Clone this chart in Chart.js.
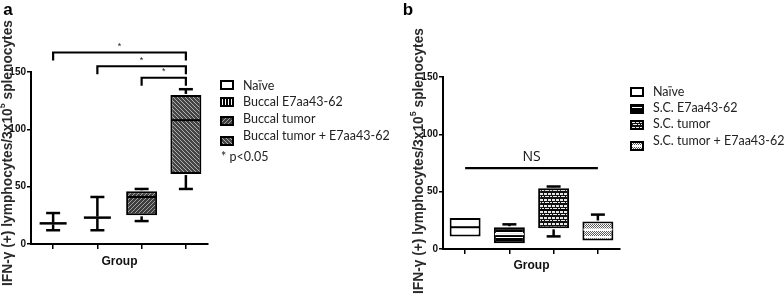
<!DOCTYPE html>
<html><head><meta charset="utf-8">
<script src="https://cdn.jsdelivr.net/npm/chart.js@4.4.1/dist/chart.umd.min.js"></script>
<style>
html,body{margin:0;padding:0;background:#fff;width:784px;height:301px;overflow:hidden}
.wrap{position:absolute;top:0;width:392px;height:301px}
canvas{display:block}
</style></head><body>
<div class="wrap" style="left:0"><canvas id="ca" width="392" height="301"></canvas></div>
<div class="wrap" style="left:392px"><canvas id="cb" width="392" height="301"></canvas></div>
<script>
// ---------- DATA ----------
const yTicks = [0, 50, 100, 150];
const yTitlePre = 'IFN-\u03B3 (+) lymphocytes/3x10';
const yTitleSup = '5';
const yTitlePost = ' splenocytes';
const xTitle = 'Group';

// Panel a
const groupsA = ['Na\u00EFve', 'Buccal E7aa43-62', 'Buccal tumor', 'Buccal tumor + E7aa43-62'];
const minA = [12, 12, 20, 48];
const q1A  = [18, 23, 25, 61];
const medA = [18, 23, 41, 108];
const q3A  = [18, 23, 46, 130];
const maxA = [27, 41, 48, 135];
const sigPairsA  = [[0, 3], [1, 3], [2, 3]];
const sigLevelsA = [167, 155, 145];
const sigLabelsA = ['*', '*', '*'];
const noteA = '* p<0.05';

// Panel b
const groupsB = ['Na\u00EFve', 'S.C. E7aa43-62', 'S.C. tumor', 'S.C. tumor + E7aa43-62'];
const minB = [11, 5, 11, 7.5];
const q1B  = [11, 5, 18, 7.5];
const medB = [19, 13, 34, 17];
const q3B  = [27, 19, 53, 24];
const maxB = [27, 21.5, 54.5, 30];
const nsLevelB = 70.5;
const nsLabelB = 'NS';

// ---------- PATTERNS ----------
function pat(w, h, draw) {
  const c = document.createElement('canvas'); c.width = w; c.height = h;
  const g = c.getContext('2d'); draw(g, w, h);
  return g.createPattern(c, 'repeat');
}
const pWhite = '#ffffff';
const pVStripe = pat(3, 3, (g) => { g.fillStyle = '#000'; g.fillRect(0,0,3,3); g.fillStyle = '#fff'; g.fillRect(0,0,1,3); });
const pDiag1 = pat(4, 4, (g) => { g.fillStyle = '#3c3c3c'; g.fillRect(0,0,4,4); g.fillStyle = '#a0a0a0';
  for (let i = 0; i < 4; i++) g.fillRect(i, 3 - i, 1, 1); });
const pDiag2 = pat(4, 4, (g) => { g.fillStyle = '#444'; g.fillRect(0,0,4,4); g.fillStyle = '#b0b0b0';
  for (let i = 0; i < 4; i++) g.fillRect(i, i, 1, 1); });
const pHStripe = pat(4, 5, (g) => { g.fillStyle = '#000'; g.fillRect(0,0,4,5); g.fillStyle = '#fff'; g.fillRect(0,2,4,1); });
const pBrick = pat(8, 6, (g) => { g.fillStyle = '#111'; g.fillRect(0,0,8,6); g.fillStyle = '#e8e8e8';
  g.fillRect(0,1,3,2); g.fillRect(4,1,3,2);
  g.fillRect(1,4,4,1); g.fillRect(6,4,2,1); });
const pCheck = pat(4, 7, (g) => { g.fillStyle = '#fff'; g.fillRect(0,0,4,7); g.fillStyle = '#5a5a5a';
  for (let y = 0; y < 5; y++) for (let x = 0; x < 4; x++) if ((x + y) % 2 === 0) g.fillRect(x, y, 1, 1); });

const fillsA = [pWhite, pVStripe, pDiag1, pDiag2];
const fillsB = [pWhite, pHStripe, pBrick, pCheck];
const medColorsB = ['#000', '#fff', '#000', '#fff'];

// ---------- HELPERS ----------
function drawYTitle(ctx, cx, cy, len) {
  ctx.save();
  ctx.translate(cx, cy); ctx.rotate(-Math.PI / 2);
  let size = 10;
  const meas = (s) => {
    ctx.font = `bold ${s}px "Liberation Sans", Arial, sans-serif`;
    const a = ctx.measureText(yTitlePre).width, c = ctx.measureText(yTitlePost).width;
    ctx.font = `bold ${s * 0.65}px "Liberation Sans", Arial, sans-serif`;
    const b = ctx.measureText(yTitleSup).width;
    return [a, b, c];
  };
  let w = meas(size); size = size * len / (w[0] + w[1] + w[2]); w = meas(size);
  let x = -(w[0] + w[1] + w[2]) / 2;
  ctx.fillStyle = '#2a2a2a'; ctx.textBaseline = 'middle'; ctx.textAlign = 'left';
  ctx.font = `bold ${size}px "Liberation Sans", Arial, sans-serif`;
  ctx.fillText(yTitlePre, x, 0); x += w[0];
  ctx.font = `bold ${size * 0.65}px "Liberation Sans", Arial, sans-serif`;
  ctx.fillText(yTitleSup, x, -size * 0.38); x += w[1];
  ctx.font = `bold ${size}px "Liberation Sans", Arial, sans-serif`;
  ctx.fillText(yTitlePost, x, 0);
  ctx.restore();
}

function text(ctx, s, x, y, font, align, color) {
  ctx.save(); ctx.font = font; ctx.textAlign = align || 'center'; ctx.textBaseline = 'middle';
  ctx.fillStyle = color || '#111'; ctx.fillText(s, x, y); ctx.restore();
}

function makePanel(id, cfg) {
  const plugin = {
    id: 'boxes_' + id,
    afterDatasetsDraw(chart) {
      const ctx = chart.ctx, xs = chart.scales.x, ys = chart.scales.y;
      const meta = chart.getDatasetMeta(0);
      ctx.save();
      ctx.strokeStyle = '#000'; ctx.lineWidth = 2.5; ctx.lineCap = 'butt';
      cfg.groups.forEach((g, i) => {
        const x = xs.getPixelForValue(i);
        const bw = meta.data[i].width;
        const capW = 14;
        const line = (x1, y1, x2, y2, col) => { ctx.strokeStyle = col || '#000'; ctx.beginPath(); ctx.moveTo(x1, y1); ctx.lineTo(x2, y2); ctx.stroke(); };
        const yMin = ys.getPixelForValue(cfg.min[i]), yQ1 = ys.getPixelForValue(cfg.q1[i]);
        const yQ3 = ys.getPixelForValue(cfg.q3[i]), yMax = ys.getPixelForValue(cfg.max[i]);
        const yMed = ys.getPixelForValue(cfg.med[i]);
        if (cfg.min[i] < cfg.q1[i]) { line(x, yQ1 + 1, x, yMin); line(x - capW / 2, yMin, x + capW / 2, yMin); }
        if (cfg.max[i] > cfg.q3[i]) { line(x, yQ3 - 1, x, yMax); line(x - capW / 2, yMax, x + capW / 2, yMax); }
        const mw = cfg.q1[i] === cfg.q3[i] ? 27 : bw - 2;
        ctx.lineWidth = cfg.q1[i] === cfg.q3[i] ? 2.5 : 2;
        line(x - mw / 2, yMed, x + mw / 2, yMed, cfg.medColors ? cfg.medColors[i] : '#000');
        ctx.lineWidth = 2.5;
      });
      ctx.restore();
    },
    afterDraw(chart) {
      const ctx = chart.ctx, xs = chart.scales.x, ys = chart.scales.y;
      text(ctx, cfg.letter, cfg.letterX, cfg.letterY, 'bold 17px "Liberation Sans", Arial, sans-serif', 'center', '#000');
      drawYTitle(ctx, cfg.yTitleX, cfg.yTitleY, cfg.yTitleLen);
      text(ctx, xTitle, (chart.chartArea.left + chart.chartArea.right) / 2, cfg.xTitleY,
        'bold 12px "Liberation Sans Narrow", "Liberation Sans", Arial, sans-serif', 'center', '#111');
      ctx.save(); ctx.strokeStyle = '#000'; ctx.lineWidth = 2.2;
      (cfg.sigPairs || []).forEach((p, k) => {
        const x1 = xs.getPixelForValue(p[0]), x2 = xs.getPixelForValue(p[1]);
        const y = ys.getPixelForValue(cfg.sigLevels[k]);
        ctx.beginPath(); ctx.moveTo(x1, y + 8); ctx.lineTo(x1, y); ctx.lineTo(x2, y); ctx.lineTo(x2, y + 8); ctx.stroke();
        text(ctx, cfg.sigLabels[k], (x1 + x2) / 2, y - 6, '9px "Liberation Sans", Arial, sans-serif', 'center', '#222');
      });
      if (cfg.nsLevel !== undefined) {
        const x1 = xs.getPixelForValue(0), x2 = xs.getPixelForValue(cfg.groups.length - 1);
        const y = ys.getPixelForValue(cfg.nsLevel);
        ctx.beginPath(); ctx.moveTo(x1, y); ctx.lineTo(x2, y); ctx.stroke();
        text(ctx, cfg.nsLabel, (x1 + x2) / 2, y - 11, '14px "Open Sans", "Liberation Sans", sans-serif', 'center', '#111');
      }
      ctx.restore();
      ctx.save();
      cfg.groups.forEach((g, i) => {
        const iy = cfg.legIconY[i];
        ctx.fillStyle = cfg.fills[i];
        ctx.fillRect(cfg.legIconX, iy - 4, 12, 8);
        ctx.strokeStyle = '#000'; ctx.lineWidth = 2;
        ctx.strokeRect(cfg.legIconX, iy - 4, 12, 8);
        text(ctx, g, cfg.legTextX, cfg.legTextY[i], cfg.legFont, 'left', '#222');
      });
      if (cfg.note) text(ctx, cfg.note, cfg.noteX, cfg.noteY, cfg.legFont, 'left', '#222');
      ctx.restore();
    }
  };

  return new Chart(document.getElementById(id), {
    type: 'bar',
    data: {
      labels: cfg.groups,
      datasets: [{
        data: cfg.q1.map((v, i) => [v, cfg.q3[i]]),
        backgroundColor: cfg.fills,
        borderColor: '#000', borderWidth: 2, borderSkipped: false,
        barPercentage: 0.7, categoryPercentage: 1
      }]
    },
    options: {
      responsive: false, animation: false, devicePixelRatio: 1,
      layout: { padding: cfg.padding },
      plugins: { legend: { display: false }, tooltip: { enabled: false } },
      scales: {
        x: {
          offset: true,
          grid: { offset: false, drawOnChartArea: false, drawTicks: true, tickLength: 5, color: '#000', lineWidth: 1.5 },
          border: { display: true, color: '#000', width: 2 },
          ticks: { display: false },
          afterFit: (s) => { s.height = 10; }
        },
        y: {
          min: 0, max: 150,
          afterBuildTicks: (s) => { s.ticks = yTicks.map(v => ({ value: v })); },
          grid: { drawOnChartArea: false, drawTicks: true, tickLength: 4, color: '#000', lineWidth: 1.5 },
          border: { display: true, color: '#000', width: 2 },
          ticks: { color: '#111', padding: 1, font: { family: '"Liberation Sans", Arial, sans-serif', size: 10, weight: 'bold' } },
          afterFit: (s) => { s.width = 31; }
        }
      }
    },
    plugins: [plugin]
  });
}

makePanel('ca', {
  groups: groupsA, min: minA, q1: q1A, med: medA, q3: q3A, max: maxA, fills: fillsA,
  sigPairs: sigPairsA, sigLevels: sigLevelsA, sigLabels: sigLabelsA,
  padding: { left: 0, top: 72, right: 184, bottom: 47 },
  letter: 'a', letterX: 8, letterY: 10,
  yTitleX: 8, yTitleY: 153, yTitleLen: 266, xTitleY: 262,
  legIconX: 221, legIconY: [85, 102, 121, 141], legTextX: 243, legTextY: [86, 102, 119, 136],
  legFont: '12.5px Lato, "Open Sans", sans-serif',
  note: noteA, noteX: 221, noteY: 157
});

makePanel('cb', {
  groups: groupsB, min: minB, q1: q1B, med: medB, q3: q3B, max: maxB, fills: fillsB, medColors: medColorsB,
  nsLevel: nsLevelB, nsLabel: nsLabelB,
  padding: { left: 20, top: 77, right: 164, bottom: 42 },
  letter: 'b', letterX: 16, letterY: 10,
  yTitleX: 27, yTitleY: 161, yTitleLen: 266, xTitleY: 266,
  legIconX: 239, legIconY: [92, 109, 125, 146], legTextX: 261, legTextY: [92, 108, 124, 141],
  legFont: '12.5px Lato, "Open Sans", sans-serif'
});
</script>
</body></html>
